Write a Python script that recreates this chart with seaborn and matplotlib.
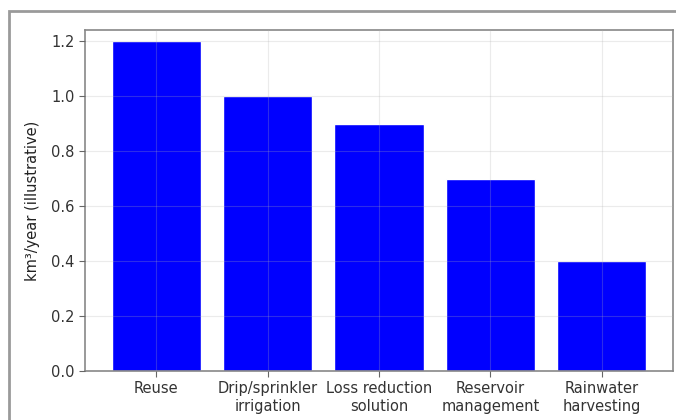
import matplotlib
matplotlib.use("Agg")
import matplotlib.pyplot as plt
import seaborn as sns
import pandas as pd
from matplotlib.patches import Rectangle

measures = ["Reuse", "Drip/sprinkler\nirrigation", "Loss reduction\nsolution",
            "Reservoir\nmanagement", "Rainwater\nharvesting"]
savings = [1.2, 1.0, 0.9, 0.7, 0.4]
yticks = [0.0, 0.2, 0.4, 0.6, 0.8, 1.0, 1.2]

sns.set_style("white")
plt.rcParams['font.family'] = ['DejaVu Sans']

df = pd.DataFrame({'measure': measures, 'savings': savings})

fig = plt.figure(figsize=(6.76, 4.2), dpi=100)
ax = fig.add_axes([85 / 676, 1 - 371 / 420, (673 - 85) / 676, (371 - 30) / 420])

sns.barplot(data=df, x='measure', y='savings', color='#0000ff', saturation=1,
            width=0.8, ax=ax)
ax.set_xlim(-0.64, len(measures) - 1 + 0.64)
ax.set_ylim(0, 1.24)
ax.set_yticks(yticks)
ax.set_yticklabels([f"{t:.1f}" for t in yticks])
# faint grid drawn on top of the bars
ax.grid(True, color='#b0b0b0', alpha=0.25, linewidth=0.8)
ax.set_axisbelow(False)
for bar in ax.patches:
    bar.set_zorder(1)
ax.set_xlabel('')
ax.set_ylabel('km³/year (illustrative)', fontsize=10.5, color='#222222', labelpad=8)
ax.tick_params(axis='both', labelsize=10.5, colors='#333333', length=4,
               color='#666666', bottom=True, left=True)
for s in ax.spines.values():
    s.set_color('#888888')
    s.set_linewidth(1.2)

# outer frame around the figure
fig.patches.append(Rectangle((9 / 676, -0.1), 1.2, 1 - 11 / 420 + 0.1,
                             transform=fig.transFigure, fill=False,
                             edgecolor='#9a9a9a', linewidth=2))

fig.savefig('out.png', dpi=100)
